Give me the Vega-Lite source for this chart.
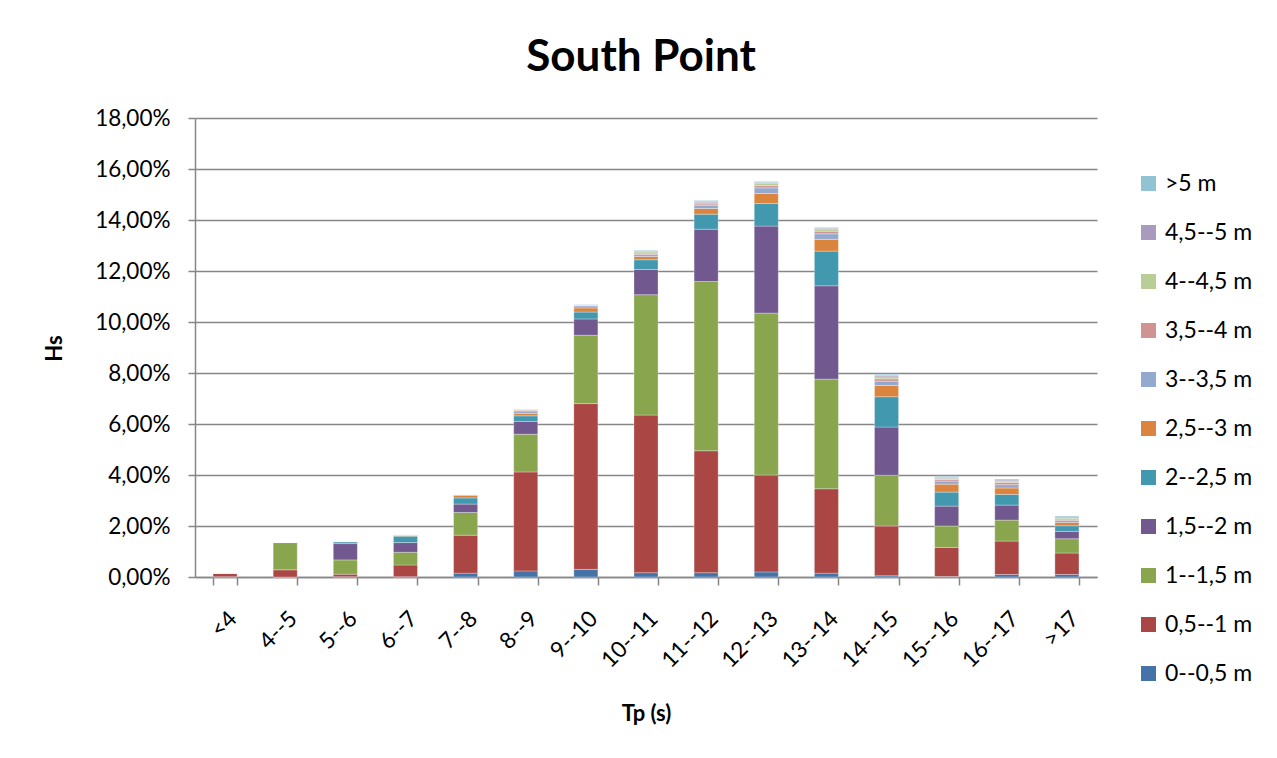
{
  "$schema": "https://vega.github.io/schema/vega-lite/v6.json",
  "width": 902,
  "height": 459,
  "autosize": {"type": "none"},
  "padding": {"left": 195, "top": 118, "right": 180, "bottom": 181},
  "background": "white",
  "title": {
    "text": "South Point",
    "font": "Lato",
    "fontSize": 44,
    "fontWeight": "bold",
    "color": "#000000",
    "anchor": "middle",
    "baseline": "alphabetic",
    "offset": -8,
    "dx": -5
  },
  "data": {
    "values": [
      {"t": "<4", "h": "0--0,5 m", "k": 0, "p": 0.0001},
      {"t": "<4", "h": "0,5--1 m", "k": 1, "p": 0.0014},
      {"t": "<4", "h": "1--1,5 m", "k": 2, "p": 0.0001},
      {"t": "<4", "h": "1,5--2 m", "k": 3, "p": 0},
      {"t": "<4", "h": "2--2,5 m", "k": 4, "p": 0},
      {"t": "<4", "h": "2,5--3 m", "k": 5, "p": 0},
      {"t": "<4", "h": "3--3,5 m", "k": 6, "p": 0},
      {"t": "<4", "h": "3,5--4 m", "k": 7, "p": 0},
      {"t": "<4", "h": "4--4,5 m", "k": 8, "p": 0},
      {"t": "<4", "h": "4,5--5 m", "k": 9, "p": 0},
      {"t": "<4", "h": ">5 m", "k": 10, "p": 0},

      {"t": "4--5", "h": "0--0,5 m", "k": 0, "p": 0},
      {"t": "4--5", "h": "0,5--1 m", "k": 1, "p": 0.0028},
      {"t": "4--5", "h": "1--1,5 m", "k": 2, "p": 0.0107},
      {"t": "4--5", "h": "1,5--2 m", "k": 3, "p": 0.0001},
      {"t": "4--5", "h": "2--2,5 m", "k": 4, "p": 0},
      {"t": "4--5", "h": "2,5--3 m", "k": 5, "p": 0},
      {"t": "4--5", "h": "3--3,5 m", "k": 6, "p": 0},
      {"t": "4--5", "h": "3,5--4 m", "k": 7, "p": 0},
      {"t": "4--5", "h": "4--4,5 m", "k": 8, "p": 0},
      {"t": "4--5", "h": "4,5--5 m", "k": 9, "p": 0},
      {"t": "4--5", "h": ">5 m", "k": 10, "p": 0},

      {"t": "5--6", "h": "0--0,5 m", "k": 0, "p": 0.0001},
      {"t": "5--6", "h": "0,5--1 m", "k": 1, "p": 0.0010},
      {"t": "5--6", "h": "1--1,5 m", "k": 2, "p": 0.0056},
      {"t": "5--6", "h": "1,5--2 m", "k": 3, "p": 0.0064},
      {"t": "5--6", "h": "2--2,5 m", "k": 4, "p": 0.0007},
      {"t": "5--6", "h": "2,5--3 m", "k": 5, "p": 0.0001},
      {"t": "5--6", "h": "3--3,5 m", "k": 6, "p": 0},
      {"t": "5--6", "h": "3,5--4 m", "k": 7, "p": 0},
      {"t": "5--6", "h": "4--4,5 m", "k": 8, "p": 0},
      {"t": "5--6", "h": "4,5--5 m", "k": 9, "p": 0},
      {"t": "5--6", "h": ">5 m", "k": 10, "p": 0},

      {"t": "6--7", "h": "0--0,5 m", "k": 0, "p": 0.0001},
      {"t": "6--7", "h": "0,5--1 m", "k": 1, "p": 0.0046},
      {"t": "6--7", "h": "1--1,5 m", "k": 2, "p": 0.0050},
      {"t": "6--7", "h": "1,5--2 m", "k": 3, "p": 0.0038},
      {"t": "6--7", "h": "2--2,5 m", "k": 4, "p": 0.0025},
      {"t": "6--7", "h": "2,5--3 m", "k": 5, "p": 0.0003},
      {"t": "6--7", "h": "3--3,5 m", "k": 6, "p": 0.0002},
      {"t": "6--7", "h": "3,5--4 m", "k": 7, "p": 0.0001},
      {"t": "6--7", "h": "4--4,5 m", "k": 8, "p": 0},
      {"t": "6--7", "h": "4,5--5 m", "k": 9, "p": 0},
      {"t": "6--7", "h": ">5 m", "k": 10, "p": 0},

      {"t": "7--8", "h": "0--0,5 m", "k": 0, "p": 0.0015},
      {"t": "7--8", "h": "0,5--1 m", "k": 1, "p": 0.0149},
      {"t": "7--8", "h": "1--1,5 m", "k": 2, "p": 0.0089},
      {"t": "7--8", "h": "1,5--2 m", "k": 3, "p": 0.0033},
      {"t": "7--8", "h": "2--2,5 m", "k": 4, "p": 0.0024},
      {"t": "7--8", "h": "2,5--3 m", "k": 5, "p": 0.0010},
      {"t": "7--8", "h": "3--3,5 m", "k": 6, "p": 0.0003},
      {"t": "7--8", "h": "3,5--4 m", "k": 7, "p": 0.0001},
      {"t": "7--8", "h": "4--4,5 m", "k": 8, "p": 0},
      {"t": "7--8", "h": "4,5--5 m", "k": 9, "p": 0},
      {"t": "7--8", "h": ">5 m", "k": 10, "p": 0},

      {"t": "8--9", "h": "0--0,5 m", "k": 0, "p": 0.0024},
      {"t": "8--9", "h": "0,5--1 m", "k": 1, "p": 0.0388},
      {"t": "8--9", "h": "1--1,5 m", "k": 2, "p": 0.0148},
      {"t": "8--9", "h": "1,5--2 m", "k": 3, "p": 0.0050},
      {"t": "8--9", "h": "2--2,5 m", "k": 4, "p": 0.0022},
      {"t": "8--9", "h": "2,5--3 m", "k": 5, "p": 0.0010},
      {"t": "8--9", "h": "3--3,5 m", "k": 6, "p": 0.0009},
      {"t": "8--9", "h": "3,5--4 m", "k": 7, "p": 0.0003},
      {"t": "8--9", "h": "4--4,5 m", "k": 8, "p": 0.0002},
      {"t": "8--9", "h": "4,5--5 m", "k": 9, "p": 0.0001},
      {"t": "8--9", "h": ">5 m", "k": 10, "p": 0.0001},

      {"t": "9--10", "h": "0--0,5 m", "k": 0, "p": 0.0030},
      {"t": "9--10", "h": "0,5--1 m", "k": 1, "p": 0.0650},
      {"t": "9--10", "h": "1--1,5 m", "k": 2, "p": 0.0268},
      {"t": "9--10", "h": "1,5--2 m", "k": 3, "p": 0.0064},
      {"t": "9--10", "h": "2--2,5 m", "k": 4, "p": 0.0027},
      {"t": "9--10", "h": "2,5--3 m", "k": 5, "p": 0.0016},
      {"t": "9--10", "h": "3--3,5 m", "k": 6, "p": 0.0008},
      {"t": "9--10", "h": "3,5--4 m", "k": 7, "p": 0.0002},
      {"t": "9--10", "h": "4--4,5 m", "k": 8, "p": 0.0002},
      {"t": "9--10", "h": "4,5--5 m", "k": 9, "p": 0.0001},
      {"t": "9--10", "h": ">5 m", "k": 10, "p": 0.0001},

      {"t": "10--11", "h": "0--0,5 m", "k": 0, "p": 0.0017},
      {"t": "10--11", "h": "0,5--1 m", "k": 1, "p": 0.0618},
      {"t": "10--11", "h": "1--1,5 m", "k": 2, "p": 0.0472},
      {"t": "10--11", "h": "1,5--2 m", "k": 3, "p": 0.0099},
      {"t": "10--11", "h": "2--2,5 m", "k": 4, "p": 0.0038},
      {"t": "10--11", "h": "2,5--3 m", "k": 5, "p": 0.0013},
      {"t": "10--11", "h": "3--3,5 m", "k": 6, "p": 0.0008},
      {"t": "10--11", "h": "3,5--4 m", "k": 7, "p": 0.0005},
      {"t": "10--11", "h": "4--4,5 m", "k": 8, "p": 0.0005},
      {"t": "10--11", "h": "4,5--5 m", "k": 9, "p": 0.0003},
      {"t": "10--11", "h": ">5 m", "k": 10, "p": 0.0003},

      {"t": "11--12", "h": "0--0,5 m", "k": 0, "p": 0.0017},
      {"t": "11--12", "h": "0,5--1 m", "k": 1, "p": 0.0478},
      {"t": "11--12", "h": "1--1,5 m", "k": 2, "p": 0.0664},
      {"t": "11--12", "h": "1,5--2 m", "k": 3, "p": 0.0205},
      {"t": "11--12", "h": "2--2,5 m", "k": 4, "p": 0.0059},
      {"t": "11--12", "h": "2,5--3 m", "k": 5, "p": 0.0022},
      {"t": "11--12", "h": "3--3,5 m", "k": 6, "p": 0.0013},
      {"t": "11--12", "h": "3,5--4 m", "k": 7, "p": 0.0005},
      {"t": "11--12", "h": "4--4,5 m", "k": 8, "p": 0.0005},
      {"t": "11--12", "h": "4,5--5 m", "k": 9, "p": 0.0004},
      {"t": "11--12", "h": ">5 m", "k": 10, "p": 0.0004},

      {"t": "12--13", "h": "0--0,5 m", "k": 0, "p": 0.0020},
      {"t": "12--13", "h": "0,5--1 m", "k": 1, "p": 0.0380},
      {"t": "12--13", "h": "1--1,5 m", "k": 2, "p": 0.0635},
      {"t": "12--13", "h": "1,5--2 m", "k": 3, "p": 0.0341},
      {"t": "12--13", "h": "2--2,5 m", "k": 4, "p": 0.0089},
      {"t": "12--13", "h": "2,5--3 m", "k": 5, "p": 0.0039},
      {"t": "12--13", "h": "3--3,5 m", "k": 6, "p": 0.0022},
      {"t": "12--13", "h": "3,5--4 m", "k": 7, "p": 0.0009},
      {"t": "12--13", "h": "4--4,5 m", "k": 8, "p": 0.0008},
      {"t": "12--13", "h": "4,5--5 m", "k": 9, "p": 0.0004},
      {"t": "12--13", "h": ">5 m", "k": 10, "p": 0.0004},

      {"t": "13--14", "h": "0--0,5 m", "k": 0, "p": 0.0015},
      {"t": "13--14", "h": "0,5--1 m", "k": 1, "p": 0.0331},
      {"t": "13--14", "h": "1--1,5 m", "k": 2, "p": 0.0430},
      {"t": "13--14", "h": "1,5--2 m", "k": 3, "p": 0.0366},
      {"t": "13--14", "h": "2--2,5 m", "k": 4, "p": 0.0136},
      {"t": "13--14", "h": "2,5--3 m", "k": 5, "p": 0.0046},
      {"t": "13--14", "h": "3--3,5 m", "k": 6, "p": 0.0022},
      {"t": "13--14", "h": "3,5--4 m", "k": 7, "p": 0.0010},
      {"t": "13--14", "h": "4--4,5 m", "k": 8, "p": 0.0009},
      {"t": "13--14", "h": "4,5--5 m", "k": 9, "p": 0.0003},
      {"t": "13--14", "h": ">5 m", "k": 10, "p": 0.0003},

      {"t": "14--15", "h": "0--0,5 m", "k": 0, "p": 0.0005},
      {"t": "14--15", "h": "0,5--1 m", "k": 1, "p": 0.0195},
      {"t": "14--15", "h": "1--1,5 m", "k": 2, "p": 0.0199},
      {"t": "14--15", "h": "1,5--2 m", "k": 3, "p": 0.0189},
      {"t": "14--15", "h": "2--2,5 m", "k": 4, "p": 0.0119},
      {"t": "14--15", "h": "2,5--3 m", "k": 5, "p": 0.0044},
      {"t": "14--15", "h": "3--3,5 m", "k": 6, "p": 0.0017},
      {"t": "14--15", "h": "3,5--4 m", "k": 7, "p": 0.0009},
      {"t": "14--15", "h": "4--4,5 m", "k": 8, "p": 0.0008},
      {"t": "14--15", "h": "4,5--5 m", "k": 9, "p": 0.0005},
      {"t": "14--15", "h": ">5 m", "k": 10, "p": 0.0005},

      {"t": "15--16", "h": "0--0,5 m", "k": 0, "p": 0.0002},
      {"t": "15--16", "h": "0,5--1 m", "k": 1, "p": 0.0114},
      {"t": "15--16", "h": "1--1,5 m", "k": 2, "p": 0.0084},
      {"t": "15--16", "h": "1,5--2 m", "k": 3, "p": 0.0078},
      {"t": "15--16", "h": "2--2,5 m", "k": 4, "p": 0.0055},
      {"t": "15--16", "h": "2,5--3 m", "k": 5, "p": 0.0031},
      {"t": "15--16", "h": "3--3,5 m", "k": 6, "p": 0.0012},
      {"t": "15--16", "h": "3,5--4 m", "k": 7, "p": 0.0006},
      {"t": "15--16", "h": "4--4,5 m", "k": 8, "p": 0.0005},
      {"t": "15--16", "h": "4,5--5 m", "k": 9, "p": 0.0004},
      {"t": "15--16", "h": ">5 m", "k": 10, "p": 0.0004},

      {"t": "16--17", "h": "0--0,5 m", "k": 0, "p": 0.0010},
      {"t": "16--17", "h": "0,5--1 m", "k": 1, "p": 0.0131},
      {"t": "16--17", "h": "1--1,5 m", "k": 2, "p": 0.0082},
      {"t": "16--17", "h": "1,5--2 m", "k": 3, "p": 0.0059},
      {"t": "16--17", "h": "2--2,5 m", "k": 4, "p": 0.0042},
      {"t": "16--17", "h": "2,5--3 m", "k": 5, "p": 0.0025},
      {"t": "16--17", "h": "3--3,5 m", "k": 6, "p": 0.0013},
      {"t": "16--17", "h": "3,5--4 m", "k": 7, "p": 0.0009},
      {"t": "16--17", "h": "4--4,5 m", "k": 8, "p": 0.0005},
      {"t": "16--17", "h": "4,5--5 m", "k": 9, "p": 0.0004},
      {"t": "16--17", "h": ">5 m", "k": 10, "p": 0.0004},

      {"t": ">17", "h": "0--0,5 m", "k": 0, "p": 0.0010},
      {"t": ">17", "h": "0,5--1 m", "k": 1, "p": 0.0084},
      {"t": ">17", "h": "1--1,5 m", "k": 2, "p": 0.0056},
      {"t": ">17", "h": "1,5--2 m", "k": 3, "p": 0.0029},
      {"t": ">17", "h": "2--2,5 m", "k": 4, "p": 0.0022},
      {"t": ">17", "h": "2,5--3 m", "k": 5, "p": 0.0013},
      {"t": ">17", "h": "3--3,5 m", "k": 6, "p": 0.0008},
      {"t": ">17", "h": "3,5--4 m", "k": 7, "p": 0.0005},
      {"t": ">17", "h": "4--4,5 m", "k": 8, "p": 0.0004},
      {"t": ">17", "h": "4,5--5 m", "k": 9, "p": 0.0004},
      {"t": ">17", "h": ">5 m", "k": 10, "p": 0.0004}
    ]
  },
  "mark": {"type": "bar", "stroke": "#ffffff", "strokeWidth": 0.6, "strokeOpacity": 0.5},
  "encoding": {
    "x": {
      "field": "t",
      "type": "nominal",
      "sort": null,
      "scale": {"paddingInner": 0.6, "paddingOuter": 0.3},
      "axis": {
        "title": "Tp (s)",
        "titleFont": "Lato",
        "titleFontSize": 22,
        "titleFontWeight": "bold",
        "titleColor": "#000000",
        "titleY": 136,
        "titleBaseline": "middle",
        "labelAngle": -45,
        "labelFont": "Lato",
        "labelFontSize": 22.5,
        "labelColor": "#000000",
        "labelPadding": 22,
        "tickBand": "extent",
        "tickSize": 8,
        "tickColor": "#868686",
        "tickWidth": 1.5,
        "domainColor": "#868686",
        "domainWidth": 1.5,
        "grid": false
      }
    },
    "y": {
      "field": "p",
      "type": "quantitative",
      "stack": "zero",
      "scale": {"domain": [0, 0.18], "nice": false},
      "axis": {
        "title": "Hs",
        "titleFont": "Lato",
        "titleFontSize": 22,
        "titleFontWeight": "bold",
        "titleColor": "#000000",
        "titleX": -141,
        "titleY": 230,
        "titleBaseline": "middle",
        "titleAlign": "center",
        "values": [0, 0.02, 0.04, 0.06, 0.08, 0.1, 0.12, 0.14, 0.16, 0.18],
        "format": ".2%",
        "labelFont": "Lato",
        "labelFontSize": 22.5,
        "labelColor": "#000000",
        "labelPadding": 18,
        "tickSize": 7,
        "tickColor": "#868686",
        "tickWidth": 1.5,
        "domainColor": "#868686",
        "domainWidth": 1.5,
        "grid": true,
        "gridColor": "#868686",
        "gridWidth": 1.5
      }
    },
    "color": {
      "field": "h",
      "type": "nominal",
      "scale": {
        "domain": [">5 m", "4,5--5 m", "4--4,5 m", "3,5--4 m", "3--3,5 m", "2,5--3 m", "2--2,5 m", "1,5--2 m", "1--1,5 m", "0,5--1 m", "0--0,5 m"],
        "range": ["#91C3D5", "#A99BBD", "#B9CD96", "#D19392", "#93A9CF", "#DB843D", "#4198AF", "#71588F", "#89A54E", "#AA4643", "#4572A7"]
      },
      "legend": {
        "title": null,
        "orient": "none",
        "legendX": 942,
        "legendY": 54,
        "symbolType": "square",
        "symbolSize": 225,
        "symbolStrokeWidth": 0,
        "symbolOpacity": 1,
        "labelFont": "Lato",
        "labelFontSize": 23,
        "labelColor": "#000000",
        "labelOffset": 5,
        "rowPadding": 25,
        "labelLimit": 200
      }
    },
    "order": {"field": "k", "type": "quantitative", "sort": "ascending"}
  },
  "config": {
    "locale": {
      "number": {"decimal": ",", "thousands": ".", "grouping": [3], "currency": ["", " €"]}
    },
    "view": {"stroke": null},
    "axis": {"labelOverlap": false}
  }
}
